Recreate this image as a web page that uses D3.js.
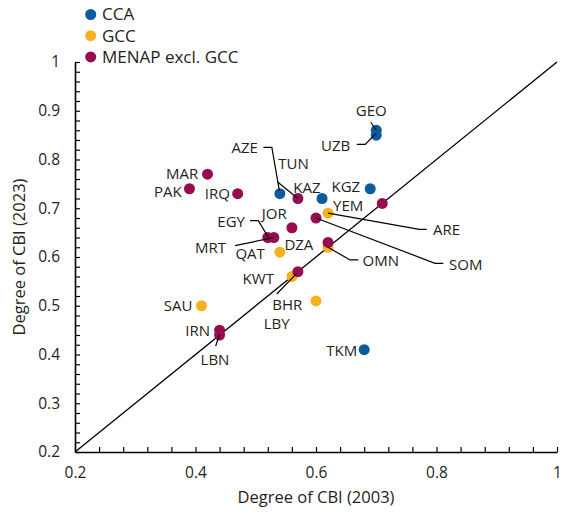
<!DOCTYPE html>
<html>
<head>
<meta charset="utf-8">
<script src="https://cdn.jsdelivr.net/npm/d3@7"></script>
<style>
  html, body { margin: 0; padding: 0; background: #fff; }
  svg { display: block; font-family: "Open Sans", "Noto Sans", sans-serif; }
</style>
</head>
<body>
<svg id="chart" width="562" height="512"></svg>
<script>
// ---- Data ----
const groups = ["CCA", "GCC", "MENAP excl. GCC"];
const countries = ["GEO","UZB","KGZ","KAZ","AZE","TKM",
                   "ARE","OMN","QAT","KWT","BHR","SAU",
                   "MAR","PAK","IRQ","TUN","YEM","SOM","JOR","EGY","MRT","DZA","LBY","IRN","LBN"];
const countryGroup = ["CCA","CCA","CCA","CCA","CCA","CCA",
                      "GCC","GCC","GCC","GCC","GCC","GCC",
                      "MENAP excl. GCC","MENAP excl. GCC","MENAP excl. GCC","MENAP excl. GCC","MENAP excl. GCC",
                      "MENAP excl. GCC","MENAP excl. GCC","MENAP excl. GCC","MENAP excl. GCC","MENAP excl. GCC",
                      "MENAP excl. GCC","MENAP excl. GCC","MENAP excl. GCC"];
const cbi2003 = [0.70,0.70,0.69,0.61,0.54,0.68,
                 0.62,0.62,0.54,0.56,0.60,0.41,
                 0.42,0.39,0.47,0.57,0.71,0.60,0.56,0.52,0.53,0.62,0.57,0.44,0.44];
const cbi2023 = [0.86,0.85,0.74,0.72,0.73,0.41,
                 0.69,0.62,0.61,0.56,0.51,0.50,
                 0.77,0.74,0.73,0.72,0.71,0.68,0.66,0.64,0.64,0.63,0.57,0.45,0.44];
const axisTicks = [0.2, 0.4, 0.6, 0.8, 1];
const yAxisTicks = [0.2, 0.3, 0.4, 0.5, 0.6, 0.7, 0.8, 0.9, 1];
const xTitle = "Degree of CBI (2003)";
const yTitle = "Degree of CBI (2023)";

// ---- Styles / layout (not data) ----
const colors = { "CCA": "#0a5c9e", "GCC": "#f7b11e", "MENAP excl. GCC": "#960c4f" };
const textColor = "#231f20";
const fontSize = 15;

// label layout: offsets (px) relative to the point
const labelLayout = {
  GEO: { dx: -5, dy: -20, anchor: "middle", leader: [[-5.5,-8],[0,0]] },
  UZB: { dx: -26, dy: 11, anchor: "end", leader: [[-19.5,9.2],[-11,9.2],[0,-2]] },
  KGZ: { dx: -10, dy: -2.5, anchor: "end" },
  KAZ: { dx: -1.5, dy: -11, anchor: "end" },
  AZE: { dx: -22, dy: -46, anchor: "end", leader: [[-16.5,-46.3],[-8,-46.3],[-0.5,-3]] },
  TKM: { dx: -7, dy: 1.1, anchor: "end" },
  ARE: { dx: 105, dy: 17, anchor: "start", leader: [[0,0],[91.3,16.2],[98.7,16.2]] },
  OMN: { dx: 34.5, dy: 13.4, anchor: "start", leader: [[0,0],[22,12.7],[30.3,12.7]] },
  QAT: { dx: -15, dy: 2, anchor: "end" },
  KWT: { dx: -18, dy: 1.8, anchor: "end" },
  BHR: { dx: -13.7, dy: 3.4, anchor: "end" },
  SAU: { dx: -9, dy: 0.3, anchor: "end" },
  MAR: { dx: -9.2, dy: -0.8, anchor: "end" },
  PAK: { dx: -7.8, dy: 3, anchor: "end" },
  IRQ: { dx: -7.7, dy: 0.4, anchor: "end" },
  TUN: { dx: -19.6, dy: -34.5, anchor: "start", leader: [[-20.6,-16.8],[0,0]] },
  YEM: { dx: -19, dy: 2.6, anchor: "end" },
  SOM: { dx: 133, dy: 47, anchor: "start", leader: [[0,0],[119,45.3],[127.3,45.3]] },
  JOR: { dx: -5.2, dy: -14.4, anchor: "end" },
  EGY: { dx: -22.8, dy: -15.8, anchor: "end", leader: [[-17.8,-16.8],[-9.5,-16.8],[0.5,-0.2]] },
  MRT: { dx: -47.8, dy: 9.8, anchor: "end", leader: [[-38.8,8.2],[0,0]] },
  DZA: { dx: -14.7, dy: 2.6, anchor: "end" },
  LBY: { dx: -21.2, dy: 51.7, anchor: "middle", leader: [[-21.2,22.4],[-1.2,1.7]] },
  IRN: { dx: -9.6, dy: 0.9, anchor: "end" },
  LBN: { dx: -4.6, dy: 25, anchor: "middle", leader: [[-3.9,11],[-0.3,0]] }
};

const svg = d3.select("#chart");
const x = d3.scaleLinear().domain([0.2, 1]).range([75, 557]);
const y = d3.scaleLinear().domain([0.2, 1]).range([452, 62]);

const points = countries.map((c, i) => ({ name: c, group: countryGroup[i], vx: cbi2003[i], vy: cbi2023[i] }));

// minor ticks
const xAll = d3.range(0, 21).map(i => +(0.2 + i * 0.04).toFixed(4));
const yAll = d3.range(0, 41).map(i => +(0.2 + i * 0.02).toFixed(4));
const isMajor = (v, arr) => arr.some(t => Math.abs(t - v) < 1e-6);
const fmt = d3.format("~g");

const gx = svg.append("g").attr("transform", `translate(0,${y(0.2)})`)
  .call(d3.axisBottom(x).tickValues(xAll).tickSizeInner(-5).tickSizeOuter(0).tickPadding(15)
    .tickFormat(v => isMajor(v, axisTicks) ? fmt(v) : ""));
const gy = svg.append("g").attr("transform", `translate(${x(0.2)},0)`)
  .call(d3.axisLeft(y).tickValues(yAll).tickSizeInner(-5).tickSizeOuter(0).tickPadding(15)
    .tickFormat(v => isMajor(v, yAxisTicks) ? fmt(v) : ""));
[gx, gy].forEach(g => {
  g.select(".domain").attr("stroke", "#000").attr("stroke-width", 1.6);
  g.selectAll(".tick line").attr("stroke", "#000").attr("stroke-width", 1.2);
  g.selectAll(".tick text").attr("fill", textColor).style("font-size", "15.5px")
    .style("font-family", '"Open Sans", sans-serif');
});

// diagonal 45-degree line
svg.append("line")
  .attr("x1", x(0.2)).attr("y1", y(0.2)).attr("x2", x(1)).attr("y2", y(1))
  .attr("stroke", "#000").attr("stroke-width", 1.3);

// points
svg.append("g").selectAll("circle").data(points).join("circle")
  .attr("cx", d => x(d.vx)).attr("cy", d => y(d.vy)).attr("r", 5.5)
  .attr("fill", d => colors[d.group]);

// leaders
const lineGen = d3.line();
svg.append("g").selectAll("path").data(points.filter(d => labelLayout[d.name] && labelLayout[d.name].leader)).join("path")
  .attr("d", d => lineGen(labelLayout[d.name].leader.map(p => [x(d.vx) + p[0], y(d.vy) + p[1]])))
  .attr("fill", "none").attr("stroke", "#000").attr("stroke-width", 1.2);

// labels
svg.append("g").selectAll("text").data(points).join("text")
  .attr("x", d => x(d.vx) + labelLayout[d.name].dx)
  .attr("y", d => y(d.vy) + labelLayout[d.name].dy)
  .attr("dy", "0.35em")
  .attr("text-anchor", d => labelLayout[d.name].anchor)
  .attr("fill", textColor)
  .style("font-size", fontSize + "px")
  .text(d => d.name);

// axis titles
svg.append("text").attr("x", (x(0.2) + x(1)) / 2).attr("y", 503)
  .attr("text-anchor", "middle").attr("fill", textColor).style("font-size", "16.5px").text(xTitle);
svg.append("text").attr("transform", `translate(25,${(y(0.2) + y(1)) / 2}) rotate(-90)`)
  .attr("text-anchor", "middle").attr("fill", textColor).style("font-size", "16.5px").text(yTitle);

// legend
const leg = svg.append("g");
groups.forEach((g, i) => {
  const cy = 14.5 + i * 21.2;
  leg.append("circle").attr("cx", 90.7).attr("cy", cy).attr("r", 5.5).attr("fill", colors[g]);
  leg.append("text").attr("x", 102).attr("y", cy).attr("dy", "0.35em")
    .attr("fill", textColor).style("font-size", "17px").text(g);
});
</script>
</body>
</html>
